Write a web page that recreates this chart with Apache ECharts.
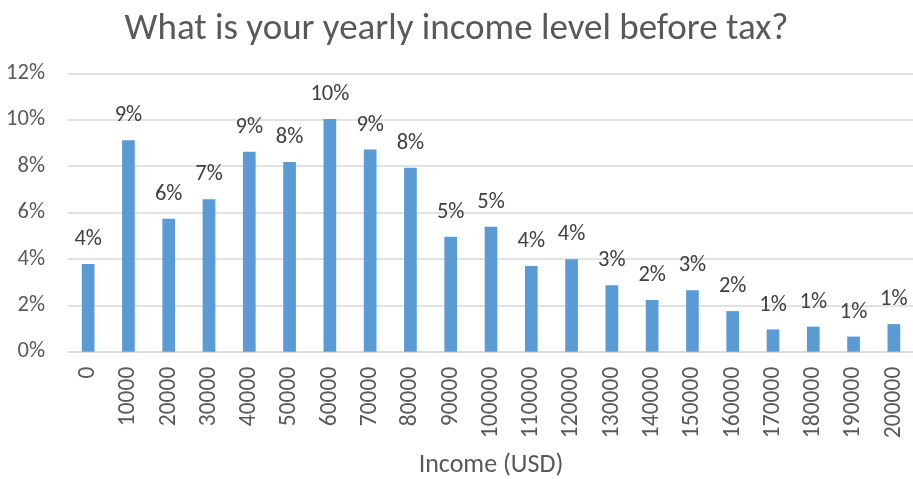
<!DOCTYPE html>
<html>
<head>
<meta charset="utf-8">
<script src="https://cdn.jsdelivr.net/npm/echarts@6/dist/echarts.min.js"></script>
<style>
  html, body { margin: 0; padding: 0; background: #ffffff; }
  #chart { width: 913px; height: 479px; }
</style>
</head>
<body>
<div id="chart"></div>
<script>
// Income brackets (USD)
const incomeBrackets = ['0', '10000', '20000', '30000', '40000', '50000', '60000', '70000', '80000', '90000', '100000',
  '110000', '120000', '130000', '140000', '150000', '160000', '170000', '180000', '190000', '200000'];

// Share of respondents in each bracket (%)
const respondentShare = [3.78, 9.11, 5.73, 6.57, 8.62, 8.18, 10.03, 8.72, 7.93, 4.96, 5.39,
  3.69, 3.98, 2.86, 2.23, 2.65, 1.75, 0.96, 1.08, 0.65, 1.19];

// Value axis ticks (%)
const yTicks = [0, 2, 4, 6, 8, 10, 12];

const fontFamily = 'Carlito, "Open Sans", "Liberation Sans", sans-serif';

const chart = echarts.init(document.getElementById('chart'));
chart.setOption({
  backgroundColor: '#ffffff',
  animation: false,
  title: {
    text: 'What is your yearly income level before tax?',
    left: 'center',
    top: 6,
    textStyle: { fontFamily, fontSize: 37, fontWeight: 'normal', color: '#595959' }
  },
  grid: {
    left: 68, right: -1, top: 73.3, bottom: 127.3,
    containLabel: false,
    outerBoundsMode: 'none'
  },
  xAxis: {
    type: 'category',
    data: incomeBrackets,
    name: 'Income (USD)',
    nameLocation: 'middle',
    nameGap: 101,
    nameTextStyle: { fontFamily, fontSize: 26, color: '#595959' },
    axisLine: { lineStyle: { color: '#d9d9d9', width: 1.5 } },
    axisTick: { show: false },
    axisLabel: {
      rotate: 90,
      interval: 0,
      margin: 15,
      fontFamily, fontSize: 23.5, color: '#595959'
    }
  },
  yAxis: {
    type: 'value',
    min: yTicks[0],
    max: yTicks[yTicks.length - 1],
    interval: 2,
    axisLine: { show: false },
    axisTick: { show: false },
    splitLine: { lineStyle: { color: '#d9d9d9', width: 1.5 } },
    axisLabel: {
      margin: 23,
      fontFamily, fontSize: 22.5, color: '#595959',
      formatter: v => v + '%'
    }
  },
  series: [{
    type: 'bar',
    data: respondentShare,
    barWidth: '31.5%',
    itemStyle: { color: '#5b9bd5' },
    label: {
      show: true,
      position: 'top',
      distance: 13,
      fontFamily, fontSize: 22.5, color: '#404040',
      formatter: p => Math.round(p.value) + '%'
    }
  }]
});
</script>
</body>
</html>
